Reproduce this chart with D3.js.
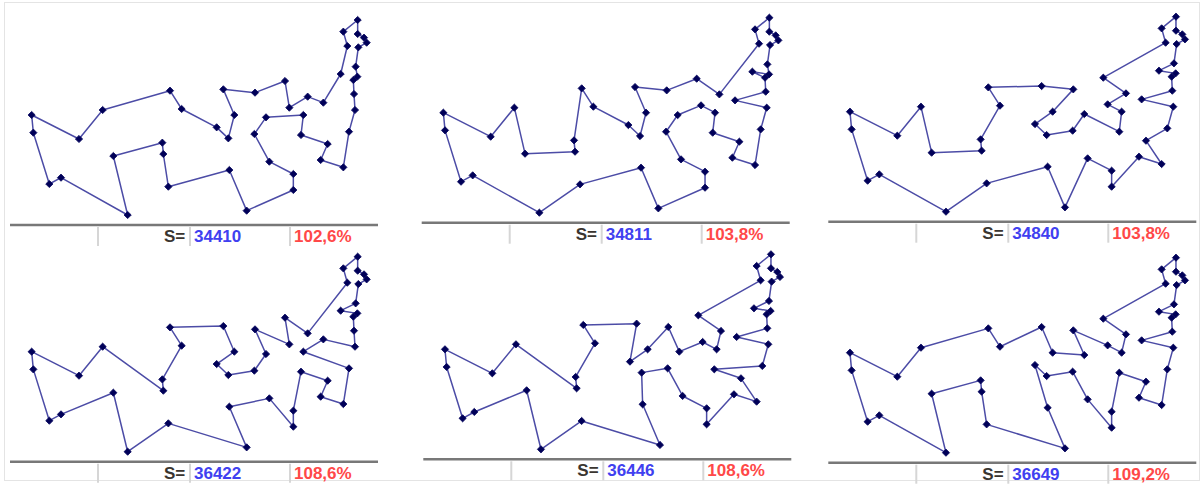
<!DOCTYPE html>
<html>
<head>
<meta charset="utf-8">
<title>Tours</title>
<script src="https://cdn.jsdelivr.net/npm/d3@7"></script>
<style>
body { margin: 0; background: #fff; }
.tour { fill: none; stroke: #4c4ca6; stroke-width: 1.5px; stroke-linejoin: round; }
.city { fill: #000058; stroke: #0a0a60; stroke-width: 0.8px; }
.bar-line { stroke: #787878; stroke-width: 2.5px; }
.sep { stroke: #d6d6d6; stroke-width: 2px; }
.stat { font-family: "Liberation Sans", Arial, sans-serif; font-weight: bold; font-size: 17px; }
</style>
</head>
<body>
<svg id="chart" width="1204" height="484"></svg>
<script>

// city coordinates (same cities in every panel)
var cityX = [95, 100, 148, 183, 383, 340, 487, 490, 505, 688, 740, 880, 880, 808, 763, 798,
  910, 903, 983, 962, 1030, 1047, 1065, 1062, 1060, 1072, 1067, 1075, 1100, 1092, 1073, 1073,
  1030, 1042, 1022, 970, 923, 868, 855, 765, 670, 703, 685, 650, 545, 510, 308, 237];
var cityY = [345, 398, 552, 533, 645, 468, 428, 462, 560, 510, 632, 570, 522, 485, 402, 352,
  345, 405, 432, 480, 502, 395, 330, 282, 240, 230, 200, 142, 128, 113, 102, 60,
  95, 138, 222, 308, 290, 323, 243, 278, 268, 345, 415, 382, 327, 272, 330, 417];

// visiting order of each tour
var tour1 = [0, 1, 2, 3, 4, 5, 6, 7, 8, 9, 10, 11, 12, 13, 14, 15, 16, 17, 18, 19, 20, 21, 22, 23,
  24, 25, 26, 27, 28, 29, 30, 31, 32, 33, 34, 35, 36, 37, 38, 39, 40, 41, 42, 43, 44, 45, 46, 47];
var tour2 = [0, 1, 2, 3, 4, 8, 9, 10, 11, 12, 13, 14, 15, 37, 16, 17, 18, 19, 20, 21, 22, 35, 23, 24,
  34, 25, 26, 27, 28, 29, 30, 31, 32, 33, 36, 38, 39, 40, 41, 42, 43, 44, 45, 6, 7, 5, 46, 47];
var tour3 = [0, 1, 2, 3, 4, 8, 9, 10, 13, 12, 11, 19, 20, 18, 21, 22, 35, 23, 24, 25, 34, 26, 27, 28,
  29, 30, 31, 32, 33, 38, 36, 37, 16, 17, 15, 14, 42, 43, 41, 39, 40, 45, 44, 6, 7, 5, 46, 47];
var tour4 = [0, 1, 2, 3, 5, 4, 8, 10, 9, 13, 11, 12, 17, 18, 19, 20, 21, 16, 35, 22, 23, 24, 25, 34,
  26, 27, 28, 29, 30, 31, 32, 33, 36, 38, 37, 39, 15, 14, 42, 43, 41, 40, 45, 44, 6, 7, 46, 47];
var tour5 = [0, 1, 2, 3, 5, 4, 8, 10, 9, 42, 14, 13, 12, 11, 19, 20, 18, 17, 21, 22, 35, 23, 24, 25,
  34, 26, 27, 28, 29, 30, 31, 32, 33, 38, 36, 16, 37, 15, 39, 41, 43, 40, 45, 44, 6, 7, 46, 47];
var tour6 = [0, 1, 2, 3, 4, 5, 6, 7, 8, 10, 9, 43, 42, 14, 13, 11, 12, 17, 18, 19, 20, 21, 22, 35,
  23, 24, 25, 34, 26, 27, 28, 29, 30, 31, 32, 33, 38, 36, 16, 37, 39, 15, 41, 40, 44, 45, 46, 47];

var lengths = [34410, 34811, 34840, 36422, 36446, 36649];
var ratios = [102.6, 103.8, 103.8, 108.6, 108.6, 109.2];

var tours = [tour1, tour2, tour3, tour4, tour5, tour6];

// where each panel sits on the page
var origins = [[0, 0], [411.7, -2.3], [818.3, -3.3], [0, 236.7], [413.3, 234.3], [818.3, 237.7]];

var x = d3.scaleLinear().domain([0, 1200]).range([0, 400]);
var y = d3.scaleLinear().domain([0, 750]).range([0, 250]);

var svg = d3.select('#chart');

// light outer frame
svg.append('rect')
  .attr('x', 4.5).attr('y', 2.5)
  .attr('width', 1195).attr('height', 478)
  .attr('fill', 'none')
  .attr('stroke', '#e4e4e4');

var line = d3.line()
  .x(function (i) { return x(cityX[i]); })
  .y(function (i) { return y(cityY[i]); })
  .curve(d3.curveLinearClosed);

var pct = function (v) { return d3.format('.1f')(v).replace('.', ',') + '%'; };

var panel = svg.selectAll('g.panel')
  .data(tours)
  .enter().append('g')
  .attr('class', 'panel')
  .attr('transform', function (d, i) { return 'translate(' + origins[i][0] + ',' + origins[i][1] + ')'; });

panel.append('path')
  .attr('class', 'tour')
  .attr('d', function (d) { return line(d); });

var marker = d3.symbol().type(d3.symbolSquare).size(26);

panel.selectAll('path.city')
  .data(d3.range(cityX.length))
  .enter().append('path')
  .attr('class', 'city')
  .attr('d', marker)
  .attr('transform', function (i) { return 'translate(' + x(cityX[i]) + ',' + y(cityY[i]) + ') rotate(45)'; });

// status bar
panel.append('line')
  .attr('class', 'bar-line')
  .attr('x1', 10).attr('x2', 378)
  .attr('y1', 225).attr('y2', 225);

panel.selectAll('line.sep')
  .data([98, 190, 290])
  .enter().append('line')
  .attr('class', 'sep')
  .attr('x1', function (d) { return d; })
  .attr('x2', function (d) { return d; })
  .attr('y1', 227).attr('y2', 246);

panel.append('text')
  .attr('class', 'stat')
  .attr('x', 164).attr('y', 242)
  .attr('fill', '#3a3530')
  .text('S=');

panel.append('text')
  .attr('class', 'stat')
  .attr('x', 194).attr('y', 242)
  .attr('fill', '#4040f0')
  .text(function (d, i) { return lengths[i]; });

panel.append('text')
  .attr('class', 'stat')
  .attr('x', 294).attr('y', 242)
  .attr('fill', '#ff4848')
  .text(function (d, i) { return pct(ratios[i]); });

</script>
</body>
</html>
